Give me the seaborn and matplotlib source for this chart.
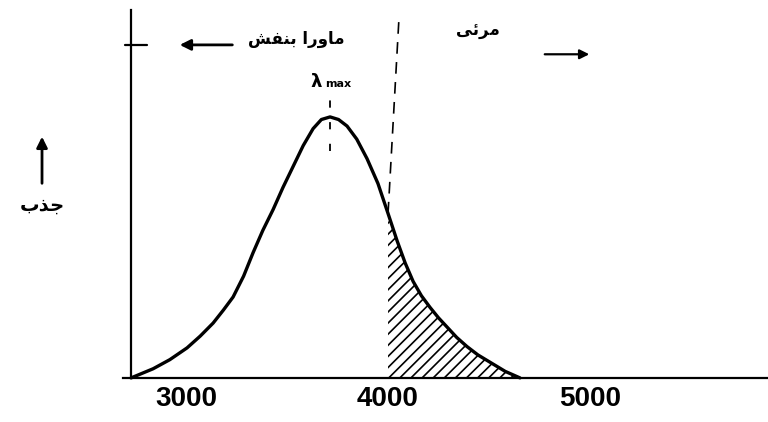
import numpy as np
import pandas as pd
import matplotlib
matplotlib.use('Agg')
import matplotlib.pyplot as plt
import seaborn as sns

# absorption curve (wavelength in Angstrom, relative absorption)
wavelength = [2728, 2837, 2920, 3005, 3070, 3134, 3185, 3233, 3285, 3332, 3380,
              3431, 3480, 3530, 3580, 3629, 3670, 3713, 3755, 3797, 3845, 3896,
              3950, 4000, 4045, 4085, 4124, 4165, 4208, 4250, 4292, 4340, 4391,
              4445, 4505, 4580, 4653]
absorption = [0.0, 0.035, 0.07, 0.115, 0.16, 0.21, 0.26, 0.31, 0.39, 0.48, 0.565,
              0.645, 0.73, 0.81, 0.89, 0.955, 0.99, 1.0, 0.99, 0.965, 0.915, 0.84,
              0.745, 0.63, 0.525, 0.44, 0.37, 0.315, 0.27, 0.23, 0.195, 0.155, 0.12,
              0.088, 0.06, 0.025, 0.0]
tick_values = [3000, 4000, 5000]
tick_labels = ['3000', '4000', '5000']
lambda_max = 3713
visible_edge = 4000

# Persian labels, written in shaped (presentation) forms, visual order
label_uv = '\ufeb6\ufed4\ufee8\ufe91 \ufe8d\ufead\ufeed\ufe8e\ufee3'   # ماورا بنفش
label_vis = '\ufef0\ufe8b\ufeae\ufee3'                                  # مرئی
label_abs = '\ufe8f\ufeac\ufe9f'                                        # جذب

df = pd.DataFrame({'wavelength': wavelength, 'absorption': absorption})

sns.set_theme(style='white')
plt.rcParams['font.family'] = ['DejaVu Sans']
plt.rcParams['text.color'] = 'black'
plt.rcParams['xtick.color'] = 'black'
plt.rcParams['hatch.linewidth'] = 1.2

fig = plt.figure(figsize=(7.68, 4.22), dpi=100)
ax = fig.add_axes([0, 0, 1, 1])
ax.set_xlim(2079, 5881)
ax.set_ylim(-0.169, 1.448)

sns.lineplot(data=df, x='wavelength', y='absorption', color='black', lw=2.4, ax=ax)

tail = df[df.wavelength >= visible_edge]
ax.fill_between(tail.wavelength, tail.absorption, 0, facecolor='white',
                edgecolor='black', hatch='///', linewidth=0)

# axes as in the sketch
for s in ['top', 'right']:
    ax.spines[s].set_visible(False)
ax.spines['left'].set_position(('data', wavelength[0]))
ax.spines['left'].set_bounds(0, 1.41)
ax.spines['bottom'].set_position(('data', 0))
ax.spines['bottom'].set_bounds(2690, 5881)
for s in ['left', 'bottom']:
    ax.spines[s].set_color('black')
    ax.spines[s].set_linewidth(1.6)
    ax.spines[s].set_zorder(3)
ax.set_yticks([])
ax.set_xticks(tick_values)
ax.set_xticklabels(tick_labels, fontsize=20, fontweight='bold', color='black',
                   family=['Liberation Sans Narrow', 'Liberation Sans', 'DejaVu Sans'])
ax.tick_params(axis='x', direction='in', length=11, width=1.5, color='black', pad=6)
ax.xaxis.get_major_ticks()[1].tick1line.set_visible(False)
ax.set_xlabel('')
ax.set_ylabel('')

# dashed markers
ax.plot([lambda_max, lambda_max], [0.87, 1.065], color='black', lw=1.3, ls=(0, (4, 8)))
ax.plot([visible_edge, visible_edge + 55], [absorption[wavelength.index(visible_edge)], 1.39],
        color='black', lw=1.2, ls=(0, (7, 5)))
ax.text(3614, 1.135, '\u03bb', fontsize=13, fontweight='bold', ha='left', va='center')
ax.text(3688, 1.125, 'max', fontsize=8, fontweight='bold', ha='left', va='center')

# small mark on the y axis and region arrows
ax.plot([2698, 2807], [1.276, 1.276], color='black', lw=1.6)
ax.annotate('', xy=(2955, 1.276), xytext=(3243, 1.276),
            arrowprops=dict(arrowstyle='-|>', color='black', lw=2, mutation_scale=16))
ax.annotate('', xy=(5010, 1.24), xytext=(4762, 1.24),
            arrowprops=dict(arrowstyle='-|>', color='black', lw=1.6, mutation_scale=14))
ax.text(3545, 1.30, label_uv, fontsize=12, fontweight='bold', ha='center', va='center')
ax.text(4445, 1.33, label_vis, fontsize=12, fontweight='bold', ha='center', va='center')

# y label
ax.annotate('', xy=(2287, 0.935), xytext=(2287, 0.735),
            arrowprops=dict(arrowstyle='-|>', color='black', lw=2, mutation_scale=16))
ax.text(2287, 0.66, label_abs, fontsize=14, fontweight='bold', ha='center', va='center')

fig.savefig('out.png', dpi=100)
